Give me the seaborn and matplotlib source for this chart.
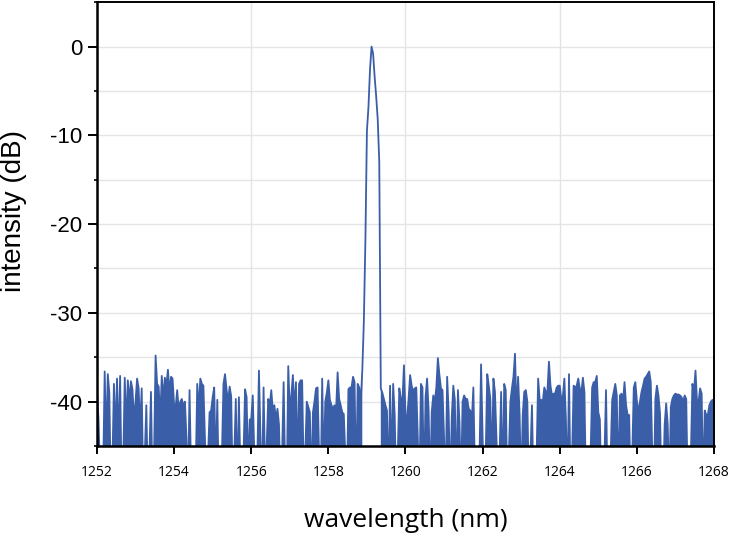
"""Laser emission spectrum: single peak at ~1259.1 nm over the noise floor."""

import matplotlib

matplotlib.use("Agg")
import matplotlib.pyplot as plt
import numpy as np
import seaborn as sns
from matplotlib.ticker import MultipleLocator

# sampling of the spectrum analyser trace
wl_start = 1252.0
wl_step = 0.04

# intensity (dB), one row per nm
# (-50 = below the visible floor)
intensity = [
    # 1252
    -38.7, -42.0, -48.0, -50.0, -48.0, -36.6, -45.0, -36.9, -39.0, -50.0,
    -47.0, -38.0, -44.0, -37.4, -45.0, -37.1, -50.0, -47.0, -37.3, -43.0,
    -37.6, -40.0, -37.7, -38.6, -42.0,
    # 1253
    -40.0, -37.4, -38.5, -43.0, -38.5, -50.0, -46.0, -40.4, -50.0, -46.0,
    -38.9, -50.0, -46.0, -34.8, -38.0, -38.3, -42.0, -37.1, -39.7, -37.3,
    -38.2, -36.4, -39.0, -37.2, -37.4,
    # 1254
    -40.4, -40.6, -38.7, -41.0, -40.0, -39.7, -40.5, -40.0, -44.0, -50.0,
    -38.7, -48.0, -50.0, -50.0, -48.0, -38.0, -41.0, -37.4, -38.0, -38.2,
    -44.0, -50.0, -46.0, -41.2, -41.0,
    # 1255
    -39.5, -38.4, -48.0, -39.8, -50.0, -50.0, -46.0, -38.0, -36.9, -38.6,
    -40.0, -38.3, -39.4, -50.0, -46.0, -39.7, -50.0, -39.5, -48.0, -50.0,
    -46.0, -38.6, -39.5, -48.0, -42.0,
    # 1256
    -42.0, -39.3, -46.0, -50.0, -46.0, -36.5, -44.0, -50.0, -38.4, -48.0,
    -45.0, -39.7, -40.4, -38.7, -41.0, -40.4, -42.0, -40.8, -42.6, -50.0,
    -46.0, -37.8, -48.0, -50.0, -36.0,
    # 1257
    -41.0, -39.3, -37.0, -41.0, -37.8, -48.0, -38.0, -37.6, -37.6, -48.0,
    -46.0, -40.0, -40.6, -41.2, -50.0, -41.2, -40.0, -38.5, -38.4, -46.0,
    -50.0, -37.4, -48.0, -40.0, -39.0,
    # 1258
    -37.6, -39.8, -40.4, -40.8, -40.4, -41.0, -36.7, -39.7, -40.4, -41.2,
    -41.4, -46.0, -50.0, -38.6, -38.4, -38.4, -37.2, -37.8, -50.0, -38.0,
    -38.4, -40.0, -36.5, -31.0, -22.0,
    # 1259
    -9.5, -6.8, -2.6, 0.0, -0.8, -3.4, -5.6, -8.2, -13.0, -38.5,
    -39.0, -39.7, -40.4, -41.0, -50.0, -38.2, -48.0, -38.0, -41.5, -50.0,
    -46.0, -38.5, -39.7, -40.0, -35.9,
    # 1260
    -41.5, -42.0, -39.7, -37.0, -38.2, -38.9, -38.5, -38.4, -44.0, -50.0,
    -38.0, -38.4, -50.0, -39.5, -37.4, -41.0, -50.0, -41.2, -39.3, -40.0,
    -38.4, -35.1, -37.0, -38.5, -38.7,
    # 1261
    -44.0, -50.0, -37.2, -41.2, -50.0, -41.7, -38.2, -39.8, -50.0, -38.7,
    -42.3, -50.0, -40.0, -39.3, -39.7, -39.7, -40.8, -41.0, -42.1, -38.4,
    -48.0, -50.0, -50.0, -46.0, -35.8,
    # 1262
    -44.0, -50.0, -46.0, -36.9, -38.2, -39.7, -48.0, -37.4, -38.9, -44.2,
    -50.0, -46.0, -38.9, -50.0, -38.0, -38.7, -50.0, -46.0, -40.0, -38.5,
    -37.2, -34.6, -41.5, -37.2, -41.5,
    # 1263
    -50.0, -41.5, -38.9, -38.7, -40.0, -50.0, -46.0, -40.4, -50.0, -50.0,
    -46.0, -37.4, -39.8, -39.8, -40.0, -38.4, -38.9, -38.9, -35.5, -38.2,
    -39.3, -39.1, -39.1, -38.4, -38.2,
    # 1264
    -38.2, -39.7, -39.5, -37.4, -42.0, -50.0, -36.9, -50.0, -46.0, -38.2,
    -38.4, -38.2, -37.4, -38.5, -39.0, -37.3, -38.9, -50.0, -50.0, -50.0,
    -46.0, -38.4, -37.8, -37.8, -37.1,
    # 1265
    -41.2, -42.0, -50.0, -50.0, -46.0, -38.7, -50.0, -50.0, -46.0, -39.8,
    -38.9, -38.0, -39.3, -50.0, -39.3, -39.1, -40.0, -37.8, -40.4, -41.5,
    -41.5, -50.0, -46.0, -38.4, -37.8,
    # 1266
    -39.9, -41.2, -40.0, -38.9, -38.2, -37.4, -37.2, -36.9, -36.6, -37.8,
    -46.0, -50.0, -39.7, -38.2, -39.3, -41.3, -50.0, -50.0, -42.6, -40.2,
    -42.6, -50.0, -40.6, -39.7, -39.3,
    # 1267 (+ end point at 1268)
    -39.1, -39.2, -39.2, -39.3, -39.5, -40.0, -39.3, -39.7, -50.0, -50.0,
    -46.0, -38.0, -38.9, -36.5, -40.0, -40.0, -38.5, -39.1, -50.0, -41.0,
    -41.5, -41.5, -40.4, -40.0, -39.8, -40.5,
]

# laser line edges: noise floor is drawn filled outside of it
peak_left = 1258.88
peak_right = 1259.36

x_ticks = [1252, 1254, 1256, 1258, 1260, 1262, 1264, 1266, 1268]
y_ticks = [0, -10, -20, -30, -40]

line_color = "#3b5ea8"

intensity = np.array(intensity)
wavelength = np.round(wl_start + wl_step * np.arange(len(intensity)), 2)
noise = (wavelength <= peak_left + 1e-6) | (wavelength >= peak_right - 1e-6)

sns.set_theme(style="ticks")
plt.rcParams["font.family"] = ["Liberation Sans", "DejaVu Sans"]
plt.rcParams.update({
    "text.color": "black",
    "axes.labelcolor": "black",
    "xtick.color": "black",
    "ytick.color": "black",
})

fig = plt.figure(figsize=(7.5, 5.4), dpi=100)
ax = fig.add_axes([0.1293, 0.174, 0.8227, 0.822])

ax.fill_between(wavelength, intensity, -50, where=noise,
                color=line_color, linewidth=0)
sns.lineplot(x=wavelength, y=intensity, ax=ax, color=line_color,
             linewidth=1.3, sort=False, estimator=None)

ax.set_xlim(1252, 1268)
ax.set_ylim(-45, 5)

# grid: every 5 dB, every 4 nm
for yg in np.arange(-40, 5, 5):
    ax.axhline(yg, color="#e4e4e4", linewidth=1.0, zorder=0)
for xg in [1256, 1260, 1264]:
    ax.axvline(xg, color="#e4e4e4", linewidth=1.0, zorder=0)

ax.set_xticks(x_ticks)
ax.set_xticklabels([str(t) for t in x_ticks], family="Open Sans", fontsize=10)
ax.set_yticks(y_ticks)
ax.set_yticklabels([str(t) for t in y_ticks], fontsize=16)
ax.yaxis.set_minor_locator(MultipleLocator(5))

ax.tick_params(axis="x", which="major", direction="out", length=6,
               width=1.4, pad=8, color="black", labelcolor="black")
ax.tick_params(axis="y", which="major", direction="out", length=6.5,
               width=1.4, pad=4, color="black", labelcolor="black")
ax.tick_params(axis="y", which="minor", direction="out", length=2.5,
               width=1.2, color="black")

for side in ["left", "bottom"]:
    ax.spines[side].set_linewidth(1.8)
for side in ["top", "right"]:
    ax.spines[side].set_visible(True)
    ax.spines[side].set_linewidth(1.4)
for side in ax.spines:
    ax.spines[side].set_color("black")

ax.set_xlabel("wavelength (nm)", family="Open Sans", fontsize=19,
              labelpad=20, color="black")
ax.set_ylabel("intensity (dB)", fontsize=20, color="black")
ax.yaxis.set_label_coords(-0.113, 0.53)

fig.savefig("out.png", dpi=100, facecolor="white")
